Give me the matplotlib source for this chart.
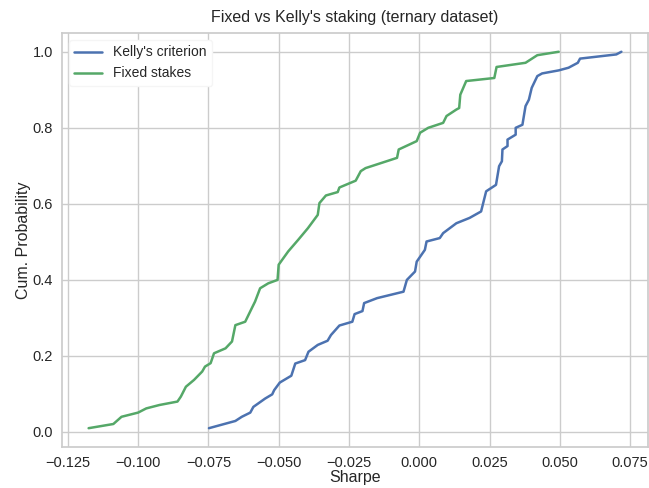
"""Cumulative distribution of Sharpe ratios: Kelly vs fixed staking."""

import matplotlib
matplotlib.use("Agg")
import matplotlib.pyplot as plt
import seaborn as sns

# Sharpe ratio vs cumulative probability, Kelly's criterion staking
kelly_sharpe = [-0.0748, -0.0654, -0.0631, -0.0601, -0.0590, -0.0548, -0.0523, -0.0516,
                -0.0496, -0.0455, -0.0441, -0.0406, -0.0394, -0.0361, -0.0326, -0.0314,
                -0.0284, -0.0238, -0.0230, -0.0202, -0.0196, -0.0150, -0.0056, -0.0044,
                -0.0015, -0.0009, 0.0020, 0.0026, 0.0073, 0.0085, 0.0132, 0.0179,
                0.0220, 0.0238, 0.0273, 0.0284, 0.0294, 0.0296, 0.0314, 0.0314,
                0.0343, 0.0343, 0.0367, 0.0378, 0.0390, 0.0400, 0.0420, 0.0437,
                0.0496, 0.0531, 0.0564, 0.0572, 0.0701, 0.0719]
kelly_prob = [0.010, 0.029, 0.040, 0.051, 0.066, 0.088, 0.099, 0.110,
              0.130, 0.148, 0.180, 0.189, 0.211, 0.229, 0.240, 0.255,
              0.280, 0.290, 0.310, 0.318, 0.339, 0.352, 0.369, 0.400,
              0.422, 0.448, 0.479, 0.501, 0.510, 0.523, 0.549, 0.563,
              0.580, 0.633, 0.650, 0.699, 0.712, 0.743, 0.752, 0.769,
              0.782, 0.800, 0.808, 0.857, 0.874, 0.905, 0.936, 0.943,
              0.951, 0.958, 0.971, 0.982, 0.993, 1.000]

# Sharpe ratio vs cumulative probability, fixed stakes
fixed_sharpe = [-0.1176, -0.1088, -0.1059, -0.1000, -0.0971, -0.0924, -0.0860, -0.0848,
                -0.0830, -0.0801, -0.0772, -0.0762, -0.0742, -0.0730, -0.0689, -0.0666,
                -0.0654, -0.0619, -0.0596, -0.0584, -0.0566, -0.0537, -0.0504, -0.0500,
                -0.0466, -0.0431, -0.0396, -0.0361, -0.0355, -0.0332, -0.0290, -0.0284,
                -0.0226, -0.0208, -0.0191, -0.0079, -0.0073, -0.0009, 0.0003, 0.0032,
                0.0085, 0.0097, 0.0132, 0.0142, 0.0146, 0.0167, 0.0267, 0.0275,
                0.0378, 0.0420, 0.0496]
fixed_prob = [0.010, 0.021, 0.040, 0.051, 0.062, 0.071, 0.080, 0.093,
              0.119, 0.137, 0.159, 0.172, 0.181, 0.207, 0.220, 0.238,
              0.281, 0.290, 0.325, 0.343, 0.378, 0.391, 0.400, 0.440,
              0.475, 0.505, 0.536, 0.571, 0.602, 0.622, 0.631, 0.643,
              0.661, 0.686, 0.694, 0.721, 0.743, 0.765, 0.787, 0.800,
              0.813, 0.831, 0.848, 0.852, 0.887, 0.923, 0.931, 0.960,
              0.971, 0.991, 1.000]

sns.set_theme(style="whitegrid", context="notebook")
plt.rcParams["font.family"] = ["Liberation Sans", "DejaVu Sans"]

fig = plt.figure(figsize=(6.49, 4.88), dpi=100)
ax = fig.add_axes([0.0955, 0.084, 0.903, 0.8485])

palette = sns.color_palette("deep")
ax.plot(kelly_sharpe, kelly_prob, color=palette[0], lw=1.8, label="Kelly's criterion")
ax.plot(fixed_sharpe, fixed_prob, color=palette[2], lw=1.8, label="Fixed stakes")

ax.set_title("Fixed vs Kelly's staking (ternary dataset)", fontsize=11.5, pad=8)
ax.set_xlabel("Sharpe", fontsize=11.5, labelpad=0)
ax.set_ylabel("Cum. Probability", fontsize=11.5, labelpad=1)
ax.tick_params(labelsize=10.5, pad=0.5)
ax.legend(loc="upper left", fontsize=10, frameon=True, facecolor="white",
          edgecolor="0.96", framealpha=1.0, handlelength=2.0)

fig.savefig("out.png", dpi=100)
